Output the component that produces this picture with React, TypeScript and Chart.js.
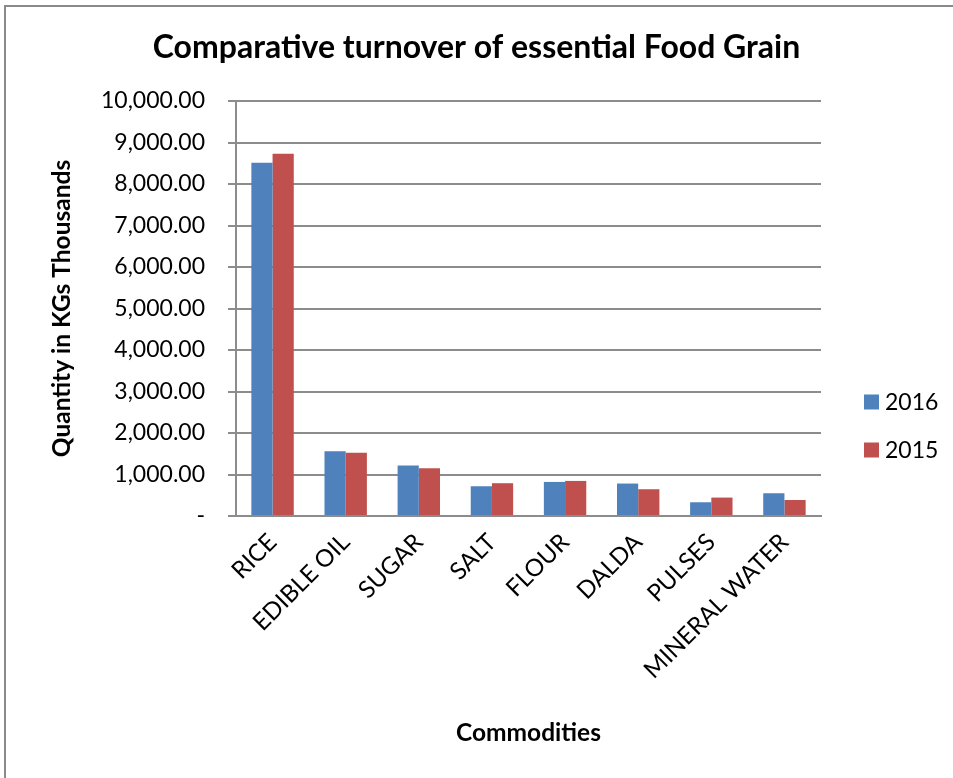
import React, { useEffect, useRef } from "react";
import { Chart, registerables } from "chart.js";

Chart.register(...registerables);

const categories = ["RICE", "EDIBLE OIL", "SUGAR", "SALT", "FLOUR", "DALDA", "PULSES", "MINERAL WATER"];
const values2016 = [8510, 1563, 1217, 717, 821, 782, 331, 548];
const values2015 = [8730, 1522, 1152, 790, 845, 645, 444, 386];
const seriesLabels = ["2016", "2015"];
const seriesColors = ["#4f81bd", "#c0504d"];

const FONT = "Lato, 'Open Sans', sans-serif";
const GRID = "#8c8c8c";

const legendPlugin = {
  id: "customLegend",
  afterDraw(chart: any) {
    const ctx = chart.ctx;
    ctx.save();
    const startY = 402;
    const gap = 48;
    chart.data.datasets.forEach((ds: any, i: number) => {
      const cy = startY + i * gap;
      ctx.fillStyle = ds.backgroundColor;
      ctx.fillRect(864, cy - 7.5, 15, 15);
      ctx.fillStyle = "#000";
      ctx.font = `23px ${FONT}`;
      ctx.textAlign = "left";
      ctx.textBaseline = "middle";
      ctx.fillText(ds.label, 885, cy + 1);
    });
    ctx.restore();
  },
};

export default function App() {
  const ref = useRef<HTMLCanvasElement | null>(null);
  useEffect(() => {
    if (!ref.current) return;
    const chart = new Chart(ref.current, {
      type: "bar",
      data: {
        labels: categories,
        datasets: [
          { label: seriesLabels[0], data: values2016, backgroundColor: seriesColors[0] },
          { label: seriesLabels[1], data: values2015, backgroundColor: seriesColors[1] },
        ],
      },
      options: {
        responsive: false,
        animation: false,
        devicePixelRatio: 1,
        layout: { padding: { left: 0, right: 0, top: 0, bottom: 0 } },
        datasets: { bar: { categoryPercentage: 0.58, barPercentage: 1.0 } },
        plugins: {
          legend: { display: false },
          tooltip: { enabled: false },
          title: {
            display: true,
            text: "Comparative turnover of essential Food Grain",
            color: "#000",
            font: { family: FONT, size: 32, weight: "bold", lineHeight: 1.2 },
            padding: { top: 28, bottom: 34.6 },
          },
        },
        scales: {
          x: {
            grid: { display: false },
            border: { display: true, color: GRID, width: 2 },
            ticks: {
              color: "#000",
              font: { family: FONT, size: 24 },
              minRotation: 45,
              maxRotation: 45,
              autoSkip: false,
              padding: 4,
            },
            title: {
              display: true,
              text: "Commodities",
              color: "#000",
              font: { family: FONT, size: 24.5, weight: "bold", lineHeight: 1.2 },
              padding: { top: 0, bottom: 30.3 },
            },
            afterFit(scale: any) {
              scale.height = 778 - 516;
            },
          },
          y: {
            min: 0,
            max: 10000,
            grid: { color: GRID, lineWidth: 2, tickLength: 8, drawTicks: true },
            border: { display: true, color: GRID, width: 2 },
            ticks: {
              stepSize: 1000,
              color: "#000",
              font: { family: FONT, size: 23 },
              padding: 23,
              callback: (v: any) =>
                Number(v) === 0
                  ? "-"
                  : Number(v).toLocaleString("en-US", { minimumFractionDigits: 2, maximumFractionDigits: 2 }),
            },
            title: {
              display: true,
              text: "Quantity in KGs Thousands",
              color: "#000",
              font: { family: FONT, size: 24.5, weight: "bold", lineHeight: 1.2 },
              padding: { top: 47.3, bottom: 0 },
            },
            afterFit(scale: any) {
              scale.width = 236;
            },
          },
          spacer: {
            type: "linear",
            position: "right",
            display: true,
            grid: { display: false, drawTicks: false },
            border: { display: false },
            ticks: { display: false },
            afterFit(scale: any) {
              scale.width = 953 - 821;
            },
          },
        },
      },
      plugins: [legendPlugin],
    });
    return () => chart.destroy();
  }, []);

  return (
    <div style={{ position: "absolute", left: 0, top: 0, width: 953, height: 778, background: "#fff" }}>
      <div
        style={{
          position: "absolute",
          left: 4,
          top: 5,
          right: 0,
          bottom: 0,
          borderLeft: "2px solid #8a8a8a",
          borderTop: "2px solid #8a8a8a",
        }}
      />
      <canvas ref={ref} width={953} height={778} style={{ position: "absolute", left: 0, top: 0 }} />
    </div>
  );
}
